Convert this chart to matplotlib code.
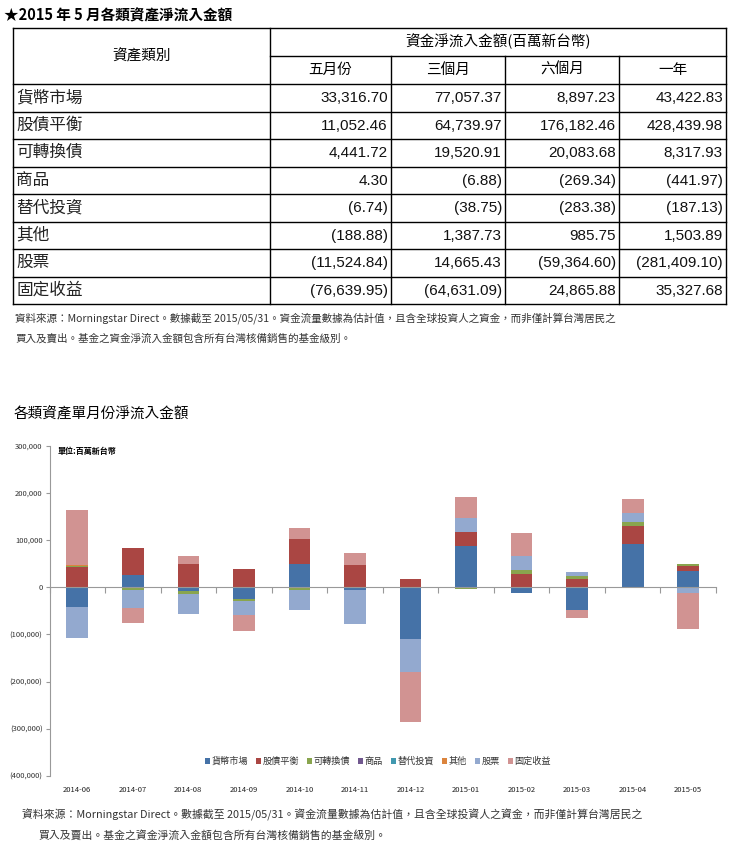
import numpy as np
import matplotlib
matplotlib.use('Agg')
import matplotlib.pyplot as plt
from matplotlib.ticker import FuncFormatter
import matplotlib.transforms as mtrans

plt.rcParams['font.family'] = ['Noto Sans CJK TC', 'DejaVu Sans']

# ---- table data (2015-05) ----
asset_names = ['貨幣市場', '股債平衡', '可轉換債', '商品', '替代投資', '其他', '股票', '固定收益']
period_heads = ['五月份', '三個月', '六個月', '一年']
col_may = ['33,316.70', '11,052.46', '4,441.72', '4.30', '(6.74)', '(188.88)', '(11,524.84)', '(76,639.95)']
col_3m = ['77,057.37', '64,739.97', '19,520.91', '(6.88)', '(38.75)', '1,387.73', '14,665.43', '(64,631.09)']
col_6m = ['8,897.23', '176,182.46', '20,083.68', '(269.34)', '(283.38)', '985.75', '(59,364.60)', '24,865.88']
col_1y = ['43,422.83', '428,439.98', '8,317.93', '(441.97)', '(187.13)', '1,503.89', '(281,409.10)', '35,327.68']

# ---- monthly net flows ----
months = ['2014-06', '2014-07', '2014-08', '2014-09', '2014-10', '2014-11',
          '2014-12', '2015-01', '2015-02', '2015-03', '2015-04', '2015-05']
money = [-42000, 26000, -9200, -26000, 48000, -6400, -108800, 86200, -12000, -48000, 91000, 33316.70]
balanced = [43000, 56500, 48000, 39000, 54400, 46600, 17700, 29700, 26800, 16300, 37500, 11052.46]
convertible = [2500, -5000, -5000, -4300, -6400, 0, 0, -3000, 9200, 8000, 8500, 4441.72]
commodity = [0, 0, 0, 0, 0, 0, 0, 0, 0, 0, 0, 4.30]
alternative = [0, 0, 0, 0, 0, 0, 0, 0, 0, 0, 0, -6.74]
other = [1000, 0, 0, 0, 0, 0, 0, 0, 0, 0, 2000, -188.88]
equity = [-65000, -39000, -41700, -28300, -41700, -72700, -70600, 29700, 29000, 7000, 18400, -11524.84]
fixed_income = [117000, -32500, 17000, -34000, 22000, 24700, -106000, 44500, 50200, -18000, 29000, -76639.95]

series = [money, balanced, convertible, commodity, alternative, other, equity, fixed_income]
colors = ['#4572A7', '#AA4643', '#89A54E', '#71588F', '#4198AF', '#DB843D', '#93A9CF', '#D19392']

W, H = 735, 848
fig = plt.figure(figsize=(W / 100, H / 100), dpi=100)

# overlay in pixel coords for the table and free text
ov = fig.add_axes([0, 0, 1, 1])
ov.set_xlim(0, W)
ov.set_ylim(H, 0)
ov.axis('off')

num_font = ['Liberation Sans', 'Noto Sans CJK TC']

ov.text(4, 15, '★2015 年 5 月各類資產淨流入金額', fontsize=10.5, fontweight='bold',
        va='center', ha='left')

# table frame
cols = [13, 270, 391, 505, 619, 726]
top, mid, hdr_bot = 28, 55.5, 84
row_h = 27.5
rows_y = [hdr_bot + i * row_h for i in range(len(asset_names) + 1)]
lw = 1.0
ov.plot([cols[0], cols[-1]], [top, top], color='black', lw=lw)
ov.plot([cols[1], cols[-1]], [mid, mid], color='black', lw=lw)
for y in rows_y:
    ov.plot([cols[0], cols[-1]], [y, y], color='black', lw=lw)
for x in [cols[0], cols[1], cols[-1]]:
    ov.plot([x, x], [top, rows_y[-1]], color='black', lw=lw)
for x in cols[2:-1]:
    ov.plot([x, x], [mid, rows_y[-1]], color='black', lw=lw)

ov.text((cols[0] + cols[1]) / 2, (top + hdr_bot) / 2, '資產類別', fontsize=10.5,
        ha='center', va='center')
ov.text((cols[1] + cols[-1]) / 2, (top + mid) / 2, '資金淨流入金額(百萬新台幣)', fontsize=10.5,
        ha='center', va='center')
for j, h in enumerate(period_heads):
    ov.text((cols[j + 1] + cols[j + 2]) / 2, (mid + hdr_bot) / 2, h, fontsize=10.5,
            ha='center', va='center')

table_cols = [col_may, col_3m, col_6m, col_1y]
for i, name in enumerate(asset_names):
    yc = rows_y[i] + row_h / 2
    ov.text(cols[0] + 3, yc, name, fontsize=12, ha='left', va='center', color='#222222')
    for j, c in enumerate(table_cols):
        ov.text(cols[j + 2] - 3, yc + 0.5, c[i], fontsize=11, ha='right', va='center',
                family=num_font, color='#111111')

note1 = '資料來源：Morningstar Direct。數據截至 2015/05/31。資金流量數據為估計值，且含全球投資人之資金，而非僅計算台灣居民之'
note2 = '買入及賣出。基金之資金淨流入金額包含所有台灣核備銷售的基金級別。'
ov.text(15, 318, note1, fontsize=7.6, ha='left', va='center', color='#333333')
ov.text(15, 338, note2, fontsize=7.6, ha='left', va='center', color='#333333')

ov.text(14, 414, '各類資產單月份淨流入金額', fontsize=10.5, ha='left', va='center')

# ---- stacked bar chart ----
ax_l, ax_r, ax_t, ax_b = 49.5, 716, 445.5, 776
ax = fig.add_axes([ax_l / W, 1 - ax_b / H, (ax_r - ax_l) / W, (ax_b - ax_t) / H])
ax.patch.set_alpha(0)
x = np.arange(len(months))
pos_base = np.zeros(len(months))
neg_base = np.zeros(len(months))
for vals, col, name in zip(series, colors, asset_names):
    v = np.array(vals, dtype=float)
    bottoms = np.where(v >= 0, pos_base, neg_base)
    ax.bar(x, v, width=0.39, bottom=bottoms, color=col, label=name, linewidth=0)
    pos_base += np.where(v >= 0, v, 0)
    neg_base += np.where(v < 0, v, 0)

ax.set_xlim(-0.5, len(months) - 0.5)
ax.set_ylim(-400000, 300000)
ax.set_yticks(np.arange(-400000, 300001, 100000))
ax.yaxis.set_major_formatter(FuncFormatter(
    lambda v, p: '0' if v == 0 else (f'{v:,.0f}' if v > 0 else f'({-v:,.0f})')))
ax.tick_params(axis='y', labelsize=5.5, length=3, color='#999999', labelcolor='#333333', pad=2)

ax.spines['top'].set_visible(False)
ax.spines['right'].set_visible(False)
ax.spines['left'].set_color('#999999')
ax.spines['bottom'].set_color('#999999')
ax.spines['bottom'].set_position(('data', 0))
ax.set_xticks(np.arange(-0.5, len(months), 1.0))
ax.set_xticklabels([])
ax.tick_params(axis='x', length=4, direction='out', color='#999999')

trans = mtrans.blended_transform_factory(ax.transData, ax.transAxes)
for i, m in enumerate(months):
    ax.text(x[i], -0.043, m, transform=trans, fontsize=5.5, ha='center', va='center',
            color='#222222')

ax.text(0.012, 0.983, '單位:百萬新台幣', transform=ax.transAxes, fontsize=5.8,
        fontweight='bold', ha='left', va='center')

leg = fig.legend(loc='center', bbox_to_anchor=(378 / W, 1 - 761.5 / H), ncol=8,
                 frameon=False, fontsize=6.6, handlelength=0.55, handleheight=0.55,
                 handletextpad=0.15, columnspacing=0.9, borderpad=0)
for t in leg.get_texts():
    t.set_color('#333333')

note3 = '資料來源：Morningstar Direct。數據截至 2015/05/31。資金流量數據為估計值，且含全球投資人之資金，而非僅計算台灣居民之'
note4 = '買入及賣出。基金之資金淨流入金額包含所有台灣核備銷售的基金級別。'
ov.text(22, 815, note3, fontsize=7.8, ha='left', va='center', color='#333333')
ov.text(38, 835, note4, fontsize=7.8, ha='left', va='center', color='#333333')

fig.savefig('out.png', dpi=100)
